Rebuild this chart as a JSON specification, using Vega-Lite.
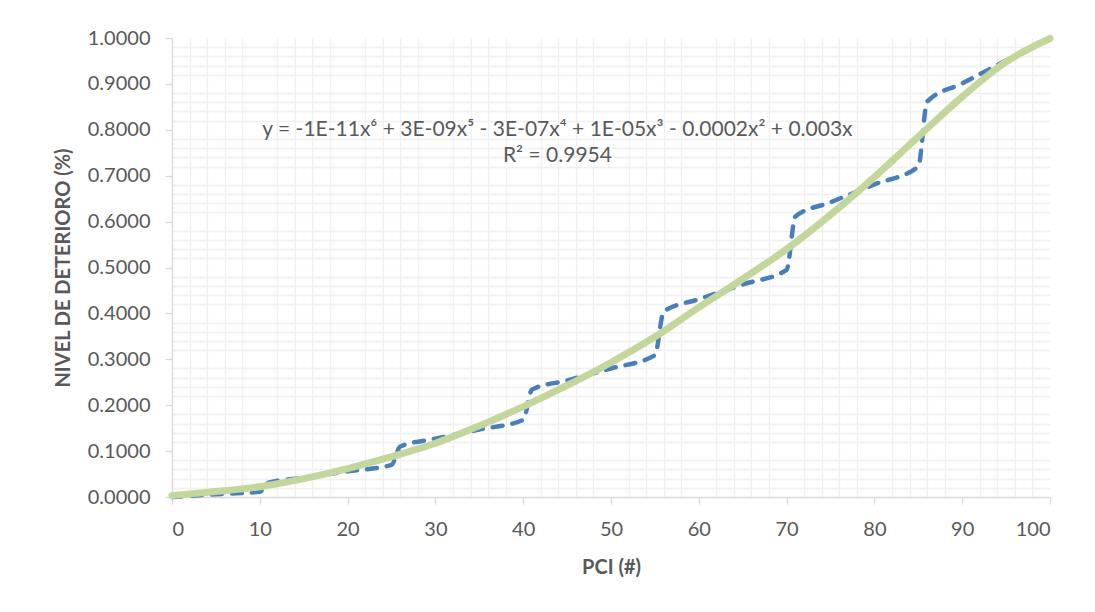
{
  "$schema": "https://vega.github.io/schema/vega-lite/v6.json",
  "autosize": {"type": "none"},
  "width": 878,
  "height": 459,
  "padding": {"left": 172, "top": 38, "right": 45, "bottom": 115},
  "background": "white",
  "config": {
    "view": {"stroke": null},
    "axis": {
      "labelFont": "Lato",
      "labelFontSize": 20,
      "labelColor": "#595959",
      "titleFont": "Lato",
      "titleFontSize": 20,
      "titleFontWeight": "bold",
      "titleColor": "#595959",
      "gridColor": "#d9d9d9",
      "gridWidth": 1.3,
      "domainColor": "#d9d9d9",
      "domainWidth": 1.3,
      "tickColor": "#d9d9d9",
      "tickWidth": 1.3,
      "tickSize": 7
    }
  },
  "datasets": {
    "serie": [
      {"pci": 0, "nivel": 0.0},
      {"pci": 5, "nivel": 0.006},
      {"pci": 10, "nivel": 0.0116},
      {"pci": 11, "nivel": 0.031},
      {"pci": 15, "nivel": 0.042},
      {"pci": 20, "nivel": 0.056},
      {"pci": 25, "nivel": 0.07},
      {"pci": 26, "nivel": 0.11},
      {"pci": 30, "nivel": 0.127},
      {"pci": 35, "nivel": 0.147},
      {"pci": 40, "nivel": 0.168},
      {"pci": 41, "nivel": 0.234},
      {"pci": 45, "nivel": 0.254},
      {"pci": 50, "nivel": 0.28},
      {"pci": 55, "nivel": 0.309},
      {"pci": 56, "nivel": 0.404},
      {"pci": 60, "nivel": 0.431},
      {"pci": 65, "nivel": 0.463},
      {"pci": 70, "nivel": 0.495},
      {"pci": 71, "nivel": 0.611},
      {"pci": 75, "nivel": 0.642},
      {"pci": 80, "nivel": 0.681},
      {"pci": 85, "nivel": 0.72},
      {"pci": 86, "nivel": 0.861},
      {"pci": 90, "nivel": 0.901},
      {"pci": 95, "nivel": 0.951},
      {"pci": 100, "nivel": 1.0}
    ],
    "tendencia": [
      {"pci": 0, "nivel": 0.003},
      {"pci": 5, "nivel": 0.012},
      {"pci": 10, "nivel": 0.0225},
      {"pci": 15, "nivel": 0.04},
      {"pci": 20, "nivel": 0.062},
      {"pci": 25, "nivel": 0.088},
      {"pci": 30, "nivel": 0.117},
      {"pci": 35, "nivel": 0.155},
      {"pci": 40, "nivel": 0.197},
      {"pci": 45, "nivel": 0.243},
      {"pci": 50, "nivel": 0.293},
      {"pci": 55, "nivel": 0.349},
      {"pci": 60, "nivel": 0.413},
      {"pci": 65, "nivel": 0.475},
      {"pci": 70, "nivel": 0.54},
      {"pci": 75, "nivel": 0.615},
      {"pci": 80, "nivel": 0.697},
      {"pci": 85, "nivel": 0.785},
      {"pci": 90, "nivel": 0.872},
      {"pci": 95, "nivel": 0.948},
      {"pci": 100, "nivel": 0.999}
    ],
    "ecuacion": [
      {"pci": 43.9, "nivel": 0.8, "texto": "y = -1E-11x⁶ + 3E-09x⁵ - 3E-07x⁴ + 1E-05x³ - 0.0002x² + 0.003x"},
      {"pci": 43.9, "nivel": 0.742, "texto": "R² = 0.9954"}
    ]
  },
  "resolve": {"axis": {"x": "independent", "y": "independent"}},
  "layer": [
    {
      "data": {"name": "serie"},
      "mark": {"type": "line", "color": "#4a7ebb", "strokeWidth": 4.5, "strokeDash": [10, 10], "strokeCap": "round", "interpolate": "monotone"},
      "encoding": {
        "x": {"field": "pci", "type": "quantitative", "scale": {"domain": [0, 100], "nice": false},
          "axis": {"orient": "bottom", "title": null, "labels": false, "ticks": false, "domain": false, "gridColor": "#f0f0f0",
            "values": [2,4,6,8,12,14,16,18,22,24,26,28,32,34,36,38,42,44,46,48,52,54,56,58,62,64,66,68,72,74,76,78,82,84,86,88,92,94,96,98]}},
        "y": {"field": "nivel", "type": "quantitative", "scale": {"domain": [0, 1], "nice": false},
          "axis": {"orient": "left", "title": null, "labels": false, "ticks": false, "domain": false, "gridColor": "#f0f0f0",
            "values": [0.02,0.04,0.06,0.08,0.12,0.14,0.16,0.18,0.22,0.24,0.26,0.28,0.32,0.34,0.36,0.38,0.42,0.44,0.46,0.48,0.52,0.54,0.56,0.58,0.62,0.64,0.66,0.68,0.72,0.74,0.76,0.78,0.82,0.84,0.86,0.88,0.92,0.94,0.96,0.98]}}
      }
    },
    {
      "data": {"name": "tendencia"},
      "mark": {"type": "line", "color": "#c3d69b", "strokeWidth": 7, "strokeCap": "round", "interpolate": "monotone"},
      "encoding": {
        "x": {"field": "pci", "type": "quantitative", "scale": {"domain": [0, 100], "nice": false},
          "axis": {"orient": "bottom", "title": "PCI (#)", "values": [0,10,20,30,40,50,60,70,80,90,100], "labelPadding": 15, "titlePadding": 18}},
        "y": {"field": "nivel", "type": "quantitative", "scale": {"domain": [0, 1], "nice": false},
          "axis": {"orient": "left", "title": "NIVEL DE DETERIORO (%)", "format": ".4f", "values": [0,0.1,0.2,0.3,0.4,0.5,0.6,0.7,0.8,0.9,1], "labelPadding": 15, "titlePadding": 14}}
      }
    },
    {
      "data": {"name": "ecuacion"},
      "mark": {"type": "text", "font": "Lato", "fontSize": 21, "color": "#595959", "align": "center", "baseline": "middle"},
      "encoding": {
        "x": {"field": "pci", "type": "quantitative", "axis": null},
        "y": {"field": "nivel", "type": "quantitative", "axis": null},
        "text": {"field": "texto"}
      }
    }
  ]
}
